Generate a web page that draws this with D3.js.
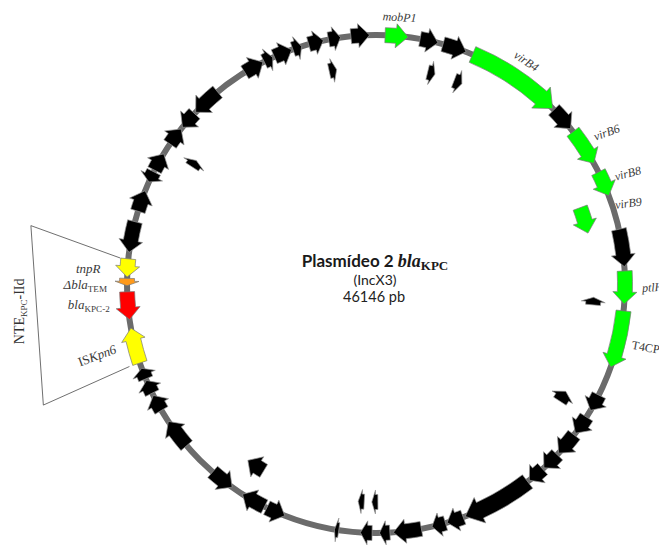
<!DOCTYPE html>
<html>
<head>
<meta charset="utf-8">
<script src="https://cdn.jsdelivr.net/npm/d3@7"></script>
<style>
  html, body { margin: 0; padding: 0; background: #fff; }
  svg { display: block; }
</style>
</head>
<body>
<svg id="map" width="659" height="545"></svg>
<script>
// Plasmid size (bp)
const plasmidLength = 46146;

// Annotated coding sequences: name, start/end (bp), strand, track (0 = backbone, 1 = inner), type
const geneNames = [
  "mobP1","orf2","orf3","virB4","orf5","virB6","virB8","orf8","ptlH","T4CP",
  "orf11","orf12","orf13","orf14","orf15","orf16","orf17","orf18","orf19","orf20",
  "orf21","orf22","orf23","orf24","orf25","orf26","orf27","orf28","orf29","ISKpn6",
  "blaKPC-2","\u0394blaTEM","tnpR","orf34","orf35","orf36","orf37","orf38","orf39","orf40",
  "orf41","orf42","orf43","orf44","orf45","orf46","orf47",
  "orf48","orf49","orf50","virB9","orf52","orf53","orf54","orf55","orf56","orf57"
];
const geneStart = [
  269,1307,2000,2923,5845,6704,8114,9909,11152,12331,
  14933,15677,16318,17086,17689,18266,20445,20996,21727,22663,
  23188,24175,25829,26483,27598,29418,30700,31277,31738,32238,
  33558,34558,34815,35545,36788,37711,38096,38993,39609,40198,
  42070,42723,43056,43646,44134,44736,45403,
  44557,1756,2692,8909,11985,15318,23009,23470,27047,38775
];
const geneEnd = [
  949,1846,2717,5794,6589,7819,8870,11024,12126,14036,
  15446,16254,17023,17638,18202,20381,20945,21407,22560,22970,
  23534,24304,26406,27226,28328,30315,31200,31687,32072,33302,
  34379,34776,35353,36468,37429,38044,38648,39544,40147,41082,
  42685,43005,43607,43916,44582,45095,45955,
  44813,2012,2974,9806,12241,15703,23214,23675,27688,39031
];
const geneStrand = [
  1,1,1,1,1,1,1,1,1,1,
  1,1,1,1,1,1,1,1,1,1,
  1,1,-1,1,-1,1,1,1,1,1,
  -1,-1,-1,-1,1,-1,1,1,-1,-1,
  1,1,1,1,1,1,1,
  1,1,1,1,-1,-1,1,1,1,1
];
const geneTrack = [
  0,0,0,0,0,0,0,0,0,0,
  0,0,0,0,0,0,0,0,0,0,
  0,0,0,0,0,0,0,0,0,0,
  0,0,0,0,0,0,0,0,0,0,
  0,0,0,0,0,0,0,
  1,1,1,1,1,1,1,1,1,1
];
const geneType = [
  "tra","cds","cds","tra","cds","tra","tra","cds","tra","tra",
  "cds","cds","cds","cds","cds","cds","cds","cds","cds","cds",
  "cds","cds","cds","cds","cds","cds","cds","cds","cds","mobile",
  "kpc","tem","mobile","cds","cds","cds","cds","cds","cds","cds",
  "cds","cds","cds","cds","cds","cds","cds",
  "cds","cds","cds","tra","cds","cds","cds","cds","cds","cds"
];

// Genes that carry a name on the map
const labelledGenes = ["mobP1","virB4","virB6","virB8","virB9","ptlH","T4CP","tnpR","\u0394blaTEM","blaKPC-2","ISKpn6"];

// Central caption
const titleMain = "Plasmídeo 2 ";
const titleGene = "bla";
const titleSub = "KPC";
const incGroup = "(IncX3)";
const sizeLabel = plasmidLength + " pb";

// Element bracketed on the left
const elementName = ["NTE", "KPC", "-IId"];
const elementFirst = "ISKpn6";
const elementLast = "tnpR";

// ---------------------------------------------------------------------------
const svg = d3.select("#map");
const cx = 376, cy = 284;
const R = 249, Rinner = 218;

const genes = geneNames.map((n, i) => ({
  name: n, start: geneStart[i], end: geneEnd[i], strand: geneStrand[i],
  track: geneTrack[i], type: geneType[i]
}));

const angle = d3.scaleLinear().domain([0, plasmidLength]).range([0, 2 * Math.PI]);
const fillColor = d3.scaleOrdinal()
  .domain(["cds", "tra", "mobile", "kpc", "tem"])
  .range(["#000000", "#00ff00", "#ffff00", "#ff0000", "#ff9a1a"]);

const polar = (r, a) => [r * Math.sin(a), -r * Math.cos(a)];

function arrowPath(g) {
  const r = g.track === 0 ? R : Rinner;
  const a0 = angle(g.start), a1 = angle(g.end);
  const span = a1 - a0;
  const big = span > angle(plasmidLength * 15 / 360);
  const w = big ? 8.5 : 7.5;      // body half width
  const h = big ? 14 : 12;        // head half width
  const headPx = big ? 16 : 12;
  const ha = Math.min(headPx / r, span * 0.6);
  const p = d3.path();
  const off = -Math.PI / 2;
  if (g.strand > 0) {
    const ab = a1 - ha;
    p.moveTo(...polar(r + w, a0));
    p.arc(0, 0, r + w, a0 + off, ab + off, false);
    p.lineTo(...polar(r + h, ab));
    p.lineTo(...polar(r, a1));
    p.lineTo(...polar(r - h, ab));
    p.lineTo(...polar(r - w, ab));
    p.arc(0, 0, r - w, ab + off, a0 + off, true);
  } else {
    const ab = a0 + ha;
    p.moveTo(...polar(r, a0));
    p.lineTo(...polar(r + h, ab));
    p.lineTo(...polar(r + w, ab));
    p.arc(0, 0, r + w, ab + off, a1 + off, false);
    p.lineTo(...polar(r - w, a1));
    p.arc(0, 0, r - w, a1 + off, ab + off, true);
    p.lineTo(...polar(r - h, ab));
  }
  p.closePath();
  return p.toString();
}

const map = svg.append("g").attr("transform", `translate(${cx},${cy})`);

// backbone
map.append("circle")
  .attr("r", R)
  .attr("fill", "none")
  .attr("stroke", "#6b6b6b")
  .attr("stroke-width", 6);

// genes
map.append("g").selectAll("path")
  .data(genes)
  .join("path")
  .attr("d", arrowPath)
  .attr("fill", d => fillColor(d.type))
  .attr("stroke", d => d.type === "cds" ? "#9a9a9a" : "#7a7a7a")
  .attr("stroke-width", 0.7)
  .attr("stroke-linejoin", "miter");

// bracket around the NTE element
const byName = new Map(genes.map(g => [g.name, g]));
const deg = Math.PI / 180;
const gFirst = byName.get(elementFirst), gLast = byName.get(elementLast);
const bracketPts = [
  polar(R + 8, angle(gLast.end)),
  polar(350, 279.6 * deg),
  polar(354, 250.0 * deg),
  polar(R + 11, angle(gFirst.start))
];
map.append("path")
  .attr("d", d3.line()(bracketPts))
  .attr("fill", "none")
  .attr("stroke", "#4a4a4a")
  .attr("stroke-width", 0.8);

// element name, vertical
const leftEdgeMid = [(bracketPts[1][0] + bracketPts[2][0]) / 2, (bracketPts[1][1] + bracketPts[2][1]) / 2];
const nte = map.append("text")
  .attr("transform", `translate(${leftEdgeMid[0] - 13},${leftEdgeMid[1] - 4}) rotate(-90)`)
  .attr("text-anchor", "middle")
  .attr("font-family", "'Liberation Serif', serif")
  .attr("font-size", 14)
  .attr("fill", "#333");
nte.append("tspan").text(elementName[0]);
nte.append("tspan").attr("font-size", 9).attr("dy", 3).text(elementName[1]);
nte.append("tspan").attr("dy", -3).text(elementName[2]);

// gene labels
const labelLayout = {
  "mobP1":     { dr: 19, da: 0.3,  rot: 3,   anchor: "middle" },
  "virB4":     { dr: 20, da: 0,    rot: 34,  anchor: "middle" },
  "virB6":     { dr: 27, da: 0,    rot: -20, anchor: "middle" },
  "virB8":     { dr: 26, da: 0,    rot: -15, anchor: "middle" },
  "virB9":     { dr: 16, da: -0.8, rot: -8,  anchor: "middle" },
  "ptlH":      { dr: 17, da: 0,    rot: -3,  anchor: "start" },
  "T4CP":      { dr: 14, da: 0.5,  rot: 10,  anchor: "start" },
  "tnpR":      { dr: 27, da: -0.4, rot: 0,   anchor: "end", size: 13 },
  "\u0394blaTEM": { dr: 20, da: -0.45, rot: 0, anchor: "end", size: 13 },
  "blaKPC-2":  { dr: 18, da: 0.7,  rot: 0,   anchor: "end", size: 13 },
  "ISKpn6":    { dr: 39, da: 0,    rot: -20, anchor: "middle", size: 13 }
};

function labelParts(name) {
  const m = name.match(/^(\u0394?bla)(.+)$/);
  if (m) return [{ t: m[1], it: true }, { t: m[2], sub: true }];
  if (name.startsWith("IS")) return [{ t: "IS" }, { t: name.slice(2), it: true }];
  if (name === "T4CP") return [{ t: name }];
  return [{ t: name, it: true }];
}

labelledGenes.forEach(name => {
  const g = byName.get(name);
  const L = labelLayout[name];
  const mid = (angle(g.start) + angle(g.end)) / 2 + L.da * deg;
  const [x, y] = polar(R + L.dr, mid);
  const fs = L.size || 12;
  const t = map.append("text")
    .attr("transform", `translate(${x},${y}) rotate(${L.rot})`)
    .attr("y", fs * 0.35)
    .attr("text-anchor", L.anchor)
    .attr("font-family", "'Liberation Serif', serif")
    .attr("font-size", fs)
    .attr("fill", "#3a3a3a");
  let shifted = false;
  labelParts(name).forEach(part => {
    const ts = t.append("tspan").text(part.t);
    if (part.it) ts.attr("font-style", "italic");
    if (part.sub) { ts.attr("font-size", fs * 0.7).attr("dy", 3); shifted = true; }
    else if (shifted) { ts.attr("dy", -3); shifted = false; }
  });
});

// central caption
const title = map.append("text")
  .attr("x", -1).attr("y", -17)
  .attr("text-anchor", "middle")
  .attr("fill", "#1a1a1a");
title.append("tspan").attr("font-family", "Lato, sans-serif").attr("font-weight", 700).attr("font-size", 17).text(titleMain);
title.append("tspan").attr("font-family", "'Liberation Serif', serif").attr("font-weight", 700).attr("font-style", "italic").attr("font-size", 18).text(titleGene);
title.append("tspan").attr("font-family", "'Liberation Serif', serif").attr("font-weight", 700).attr("font-size", 13).attr("dy", 3).text(titleSub);

map.append("text")
  .attr("x", -1).attr("y", 1)
  .attr("text-anchor", "middle")
  .attr("font-family", "Lato, sans-serif")
  .attr("font-size", 14)
  .attr("fill", "#222")
  .text(incGroup);

map.append("text")
  .attr("x", -2).attr("y", 18)
  .attr("text-anchor", "middle")
  .attr("font-family", "Lato, sans-serif")
  .attr("font-size", 14.5)
  .attr("fill", "#222")
  .text(sizeLabel);
</script>
</body>
</html>
